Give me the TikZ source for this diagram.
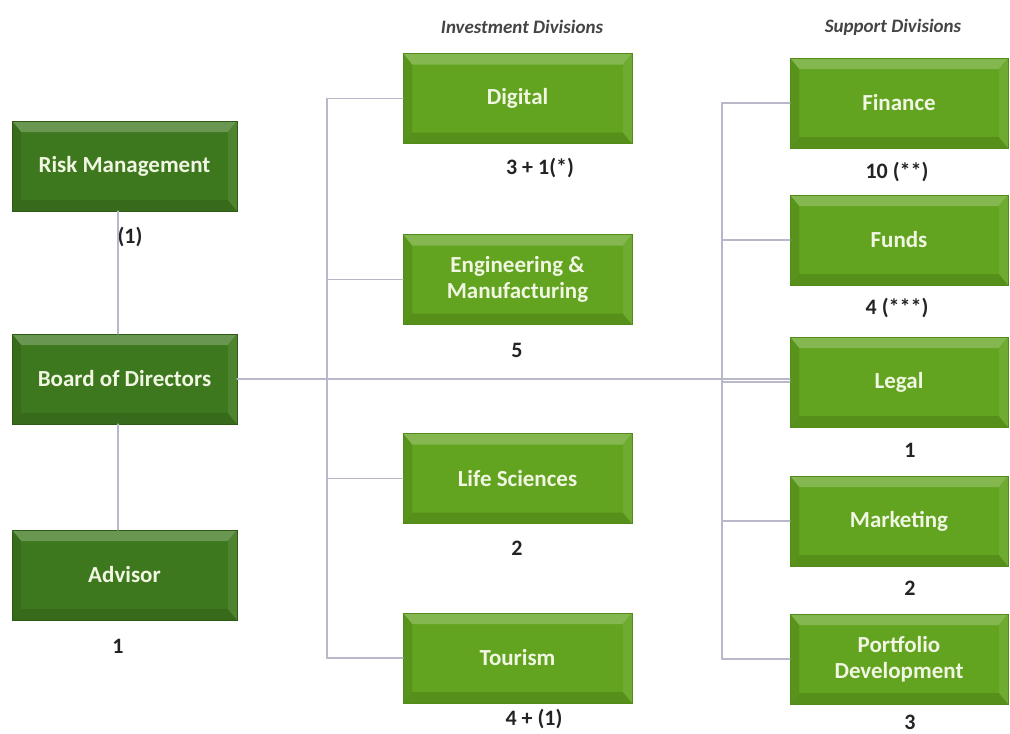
\documentclass[tikz,border=0pt]{standalone}
\usepackage{fontspec}
\setmainfont{Carlito}
\usepackage{xcolor}

\definecolor{leafdark}{RGB}{62,120,30}
\definecolor{leaf}{RGB}{98,163,31}
\definecolor{wire}{RGB}{184,184,202}
\definecolor{boxtext}{RGB}{240,246,226}
\definecolor{counttext}{RGB}{35,35,35}

\begin{document}
\begin{tikzpicture}[x=1pt,y=-1pt,line cap=round,
    % bevelled look of the boxes
    bevel/.style={path picture={
        \fill[#1!78!white] (path picture bounding box.north west) -- (path picture bounding box.north east)
            -- ([shift={(-9pt,-11pt)}]path picture bounding box.north east) -- ([shift={(9pt,-11pt)}]path picture bounding box.north west) -- cycle;
        \fill[#1!88!black] (path picture bounding box.south west) -- (path picture bounding box.south east)
            -- ([shift={(-9pt,11pt)}]path picture bounding box.south east) -- ([shift={(9pt,11pt)}]path picture bounding box.south west) -- cycle;
        \fill[#1!90!black] (path picture bounding box.north west) -- ([shift={(9pt,-11pt)}]path picture bounding box.north west)
            -- ([shift={(9pt,11pt)}]path picture bounding box.south west) -- (path picture bounding box.south west) -- cycle;
        \fill[#1!92!white] (path picture bounding box.north east) -- ([shift={(-9pt,-11pt)}]path picture bounding box.north east)
            -- ([shift={(-9pt,11pt)}]path picture bounding box.south east) -- (path picture bounding box.south east) -- cycle;
    }},
    boxbase/.style={rectangle,inner sep=0pt,minimum height=90pt,align=center,
        text=boxtext,font=\fontsize{23}{26}\selectfont\bfseries},
    lbox/.style={boxbase,minimum width=225pt,fill=leafdark,draw=leafdark!75!black,bevel=leafdark},
    mbox/.style={boxbase,minimum width=229pt,fill=leaf,draw=leaf!85!black,bevel=leaf},
    rbox/.style={boxbase,minimum width=218pt,fill=leaf,draw=leaf!85!black,bevel=leaf},
    count/.style={text=counttext,font=\fontsize{22}{24}\selectfont\bfseries},
    head/.style={text=counttext!85!white,font=\fontsize{19}{21}\selectfont\bfseries\itshape},
    link/.style={draw=wire,line width=1.8pt}]

    % fix the frame
    \useasboundingbox (0,0) rectangle (1010,734);

    % headings
    \node[head] (invhead) at (522,27) {Investment Divisions};
    \node[head] (suphead) at (893,27) {Support Divisions};

    % left column
    \node[lbox] (risk) at (124.5,166) {Risk Management};
    \node[lbox] (board) at (124.5,379) {Board of Directors};
    \node[lbox] (advisor) at (124.5,575) {Advisor};

    % investment divisions
    \node[mbox] (digital) at (517.5,98.5) {Digital};
    \node[mbox] (engman) at (517.5,279.5) {Engineering \&\\Manufacturing};
    \node[mbox] (lifesci) at (517.5,478.5) {Life Sciences};
    \node[mbox] (tourism) at (517.5,658) {Tourism};

    % support divisions
    \node[rbox] (finance) at (899,103) {Finance};
    \node[rbox] (funds) at (899,240) {Funds};
    \node[rbox] (legal) at (899,382) {Legal};
    \node[rbox] (marketing) at (899,521) {Marketing};
    \node[rbox] (portdev) at (899,659) {Portfolio\\Development};

    % head counts
    \node[count] (riskn) at (130,237) {(1)};
    \node[count] (advisorn) at (118,646) {1};
    \node[count] (digitaln) at (540,168) {3 + 1(*)};
    \node[count] (engmann) at (517,350) {5};
    \node[count] (lifescin) at (517,548) {2};
    \node[count] (tourismn) at (534,719) {4 + (1)};
    \node[count] (financen) at (897,172) {10 (**)};
    \node[count] (fundsn) at (897,308) {4 (***)};
    \node[count] (legaln) at (910,450) {1};
    \node[count] (marketingn) at (910,588) {2};
    \node[count] (portdevn) at (910,722) {3};

    % bus lines
    \coordinate (ibus) at (327,0);
    \coordinate (sbus) at (722,0);

    % left column links
    \draw[link] (risk.south -| 118,0) -- (board.north -| 118,0);
    \draw[link] (board.south -| 118,0) -- (advisor.north -| 118,0);

    % board to support divisions
    \draw[link] (board.east) -- (board.east -| legal.west);

    % investment bus
    \draw[link] (ibus |- digital.west) -- (ibus |- tourism.west);
    \foreach \n in {digital,engman,lifesci,tourism}
        \draw[link] (ibus |- \n.west) -- (\n.west);

    % support bus
    \draw[link] (sbus |- finance.west) -- (sbus |- portdev.west);
    \foreach \n in {finance,funds,legal,marketing,portdev}
        \draw[link] (sbus |- \n.west) -- (\n.west);
\end{tikzpicture}
\end{document}
